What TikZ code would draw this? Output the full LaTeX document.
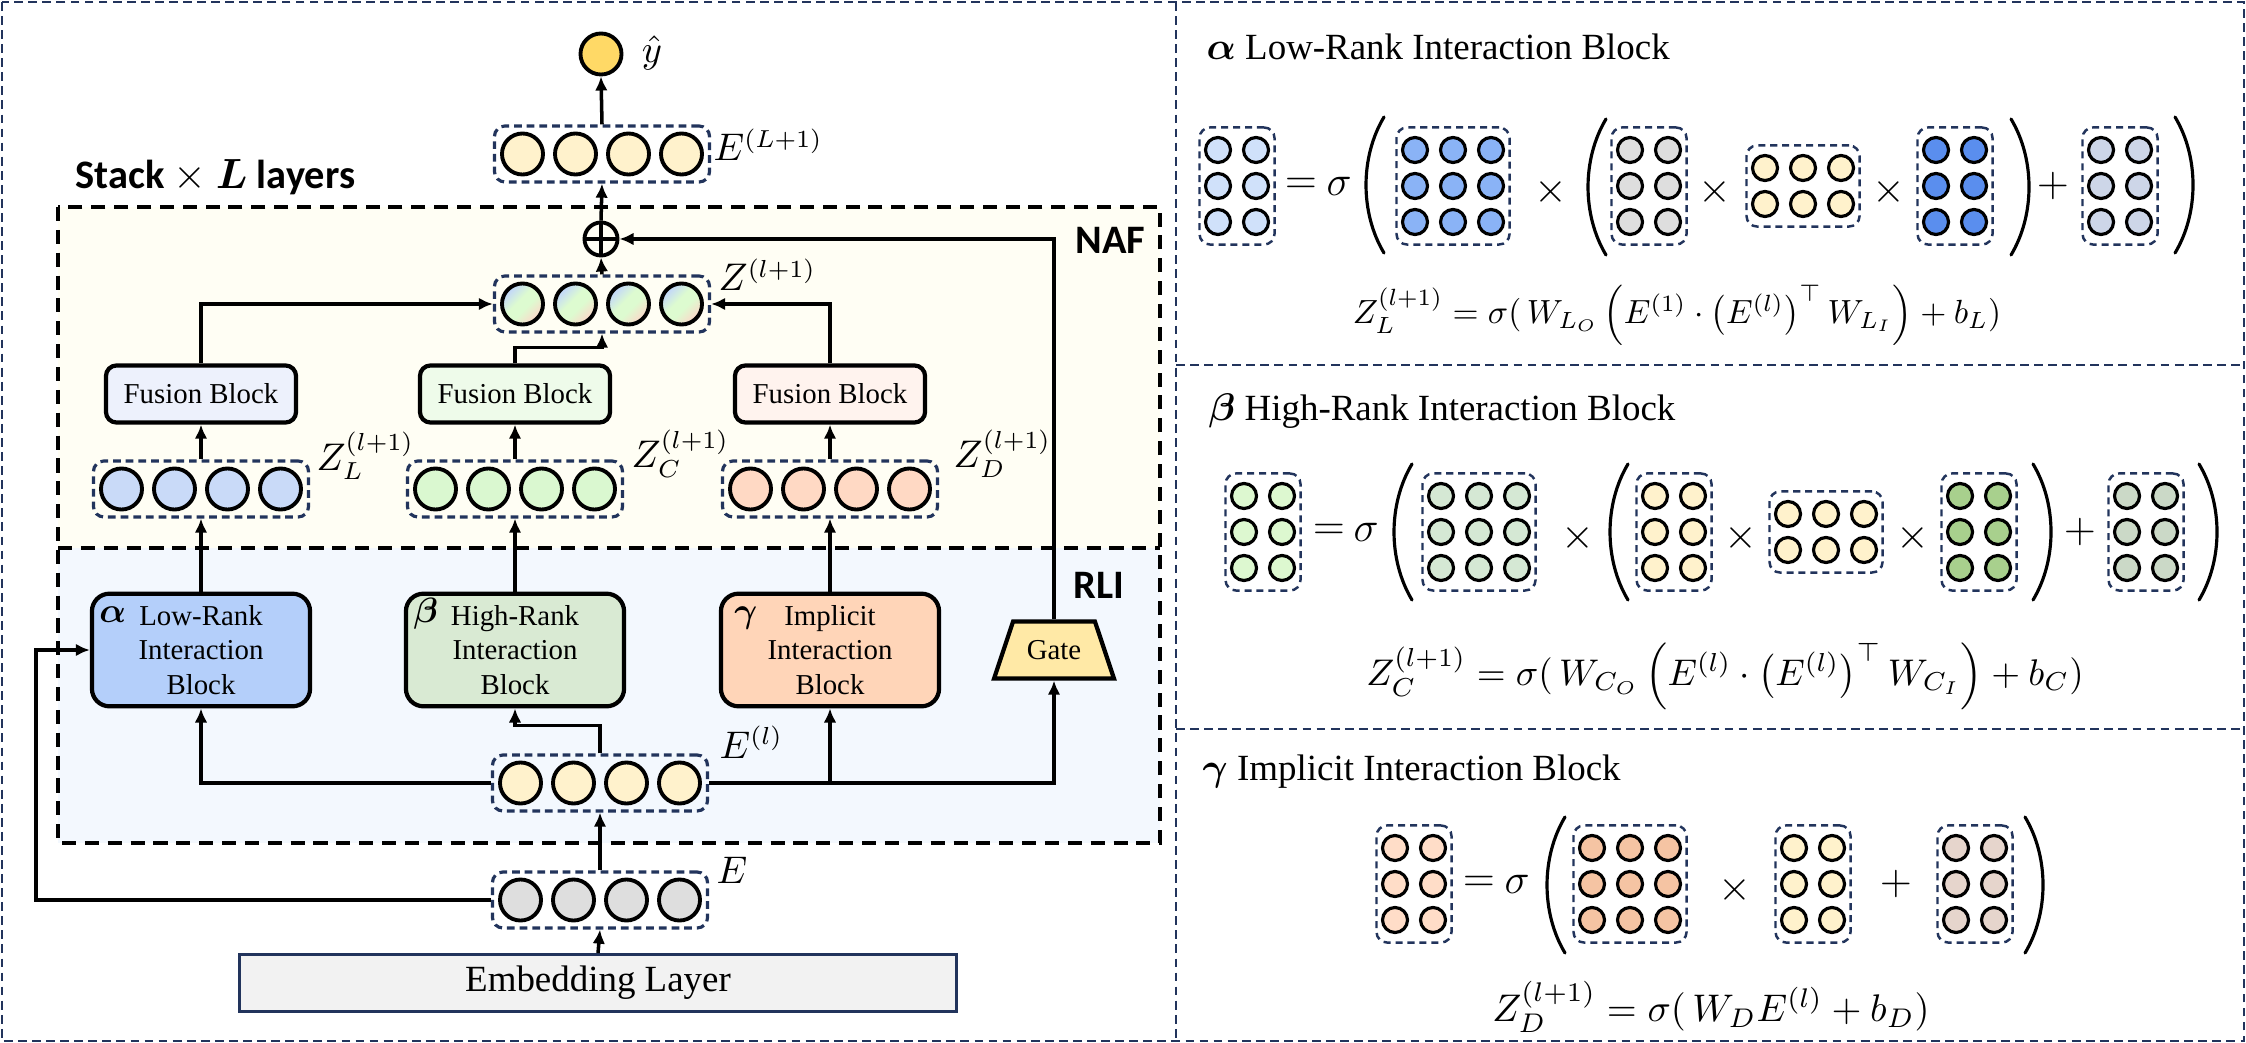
\documentclass[tikz,border=0pt]{standalone}
\usepackage{amsmath,amssymb,bm}
\usepackage{graphicx}
\usepackage{fontspec}
\setmainfont{Liberation Serif}
\newfontfamily\tagfont{Carlito}
\usetikzlibrary{positioning,calc,arrows.meta,shapes.geometric}

\definecolor{navy}{HTML}{22345C}
\definecolor{nafbg}{HTML}{FFFEF4}
\definecolor{rlibg}{HTML}{F3F8FE}
\definecolor{yhatcol}{HTML}{FFD966}
\definecolor{ecol}{HTML}{FFF2CC}
\definecolor{embcol}{HTML}{DEDEDE}
\definecolor{zlcol}{HTML}{C9DAF8}
\definecolor{zccol}{HTML}{DAF8D0}
\definecolor{zdcol}{HTML}{FFD9C4}
\definecolor{mixa}{HTML}{C4DAF6}
\definecolor{mixb}{HTML}{DDFBD0}
\definecolor{mixc}{HTML}{F8DCCA}
\definecolor{fusl}{HTML}{EDF1FC}
\definecolor{fusc}{HTML}{EEFBEA}
\definecolor{fusd}{HTML}{FFF3EE}
\definecolor{lowcol}{HTML}{B4CFFA}
\definecolor{highcol}{HTML}{D9EAD3}
\definecolor{impcol}{HTML}{FFD5B8}
\definecolor{gatecol}{HTML}{FFE9A6}
\definecolor{layercol}{HTML}{F2F2F2}
% matrix colours
\definecolor{aout}{HTML}{D0E1FA}
\definecolor{aw}{HTML}{8AB3F6}
\definecolor{av}{HTML}{5A8EEE}
\definecolor{abias}{HTML}{CDD6E8}
\definecolor{mgray}{HTML}{DEDEDE}
\definecolor{bout}{HTML}{DDF8D0}
\definecolor{bw}{HTML}{D5E8D4}
\definecolor{bv}{HTML}{A8D08D}
\definecolor{bbias}{HTML}{CBD9C7}
\definecolor{gout}{HTML}{FFDDC8}
\definecolor{gw}{HTML}{F5C4A3}
\definecolor{gbias}{HTML}{E6D5CC}

\pgfdeclareverticalshading{zmixshade}{100bp}{color(0bp)=(mixc); color(28bp)=(mixc); color(44bp)=(mixb); color(56bp)=(mixb); color(72bp)=(mixa); color(100bp)=(mixa)}

\tikzset{>={Latex[length=4pt,width=3.6pt]}}
\tikzset{arr/.style={->,line width=1pt}}
\tikzset{outerframe/.style={draw=navy,line width=0.6pt,dash pattern=on 2.5pt off 1.5pt}}
\tikzset{stackline/.style={draw=black,line width=1pt,dash pattern=on 4pt off 2.5pt}}
\tikzset{vecbox/.style={draw=navy,line width=0.9pt,dash pattern=on 2.2pt off 1.4pt,rounded corners=3pt,minimum width=2.15cm,minimum height=0.56cm,inner sep=0pt}}
\tikzset{unitcell/.style={draw,circle,line width=1.1pt,minimum size=0.41cm,inner sep=0pt}}
\tikzset{mixcell/.style={shade,shading=zmixshade,shading angle=45}}
\tikzset{matbox/.style={draw=navy,line width=0.7pt,dash pattern=on 2pt off 1.4pt,rounded corners=3pt,inner sep=0pt}}
\tikzset{mcell/.style={draw,circle,line width=0.9pt,minimum size=0.25cm,inner sep=0pt}}
\tikzset{fusion/.style={draw,line width=1.2pt,rounded corners=3pt,minimum width=1.9cm,minimum height=0.57cm,font=\fontsize{8.2}{10}\selectfont}}
\tikzset{iblock/.style={draw,line width=1.2pt,rounded corners=5pt,minimum width=2.18cm,minimum height=1.05cm,align=center,font=\fontsize{8.2}{9.8}\selectfont}}
\tikzset{greek/.style={anchor=base,inner sep=0pt,font=\fontsize{10}{12}\selectfont}}
\tikzset{lbl/.style={anchor=base west,inner sep=0pt,font=\fontsize{10.5}{12}\selectfont}}
\tikzset{tagtext/.style={anchor=base west,inner sep=0pt,font=\tagfont\bfseries\fontsize{11.5}{13}\selectfont}}
\tikzset{optext/.style={inner sep=0pt,font=\fontsize{12}{14}\selectfont}}
\tikzset{parenline/.style={line width=0.9pt,line cap=round}}
\tikzset{ttl/.style={anchor=base west,inner sep=0pt,font=\fontsize{10.5}{12}\selectfont}}

% row of four units inside a dashed box
\newcommand{\cellrow}[4]{%
  \node[vecbox] (#1) at (#2,#3) {};
  \foreach \idx in {1,...,4}
    \node[unitcell,#4] (#1-\idx) at ({#2+(\idx-2.5)*53},#3) {};
}
% small matrix: name, x, y, rows, cols, fill
\newcommand{\cellmat}[6]{%
  \node[matbox,minimum width={(#5-1)*0.38cm+0.37cm},minimum height={(#4-1)*0.36cm+0.45cm}] (#1) at (#2,#3) {};
  \foreach \row in {1,...,#4}
    \foreach \col in {1,...,#5}
      \node[mcell,fill=#6] (#1-\row\col) at ({#2+(\col-(#5+1)/2)*38},{#3+(\row-(#4+1)/2)*36}) {};
}
% tall brackets: x, y
\newcommand{\openbig}[2]{\draw[parenline] ({#1+9},{#2-68}) .. controls ({#1-15},{#2-28}) and ({#1-15},{#2+28}) .. ({#1+9},{#2+68});}
\newcommand{\closebig}[2]{\draw[parenline] ({#1-9},{#2-68}) .. controls ({#1+15},{#2-28}) and ({#1+15},{#2+28}) .. ({#1-9},{#2+68});}

\begin{document}
\begin{tikzpicture}[x=0.01cm,y=-0.01cm]
\useasboundingbox (0,0) rectangle (2246,1043);

% panel frames
\draw[outerframe] (2,2) rectangle (2244,1041);
\draw[outerframe] (1176,2) -- (1176,1041) (1176,365) -- (2244,365) (1176,729) -- (2244,729);

% stacked layer: NAF over RLI
\fill[nafbg] (58,207) rectangle (1160,548);
\fill[rlibg] (58,548) rectangle (1160,843);
\draw[stackline] (58,207) rectangle (1160,843) (58,548) -- (1160,548);
\node[tagtext] (stack) at (75,189) {Stack $\times$ $\bm{L}$ layers};
\node[tagtext] (naf) at (1075,254) {NAF};
\node[tagtext] (rli) at (1073,598) {RLI};

% output
\node[unitcell,fill=yhatcol] (yhat) at (601,54) {};
\node[inner sep=0pt,font=\fontsize{11}{13}\selectfont] (yhatlbl) at (652,53) {$\hat{y}$};

\cellrow{eout}{602}{154}{fill=ecol}
\cellrow{zmix}{602}{304}{mixcell}
\cellrow{zl}{201}{489}{fill=zlcol}
\cellrow{zc}{515}{489}{fill=zccol}
\cellrow{zd}{830}{489}{fill=zdcol}
\cellrow{el}{600}{783}{fill=ecol}
\cellrow{emb}{600}{900}{fill=embcol}

\node[lbl] (eoutlbl) at (713,161) {$E^{(L+1)}$};
\node[lbl] (zmixlbl) at (718,291) {$Z^{(l+1)}$};
\node[lbl] (zllbl) at (316,470) {$Z_L^{(l+1)}$};
\node[lbl] (zclbl) at (631,468) {$Z_C^{(l+1)}$};
\node[lbl] (zdlbl) at (953,468) {$Z_D^{(l+1)}$};
\node[lbl] (ellbl) at (719,758) {$E^{(l)}$};
\node[lbl] (emblbl) at (716,883) {$E$};

% aggregation
\node[draw,circle,line width=1.1pt,minimum size=0.33cm,inner sep=0pt] (add) at (601,239) {};
\draw[line width=1.1pt] (add.north) -- (add.south) (add.west) -- (add.east);

% NAF fusion blocks
\node[fusion,fill=fusl] (fusL) at (201,394) {Fusion Block};
\node[fusion,fill=fusc] (fusC) at (515,394) {Fusion Block};
\node[fusion,fill=fusd] (fusD) at (830,394) {Fusion Block};

% RLI blocks
\node[iblock,fill=lowcol] (low) at (201,650) {Low-Rank\\Interaction\\Block};
\node[iblock,fill=highcol] (high) at (515,650) {High-Rank\\Interaction\\Block};
\node[iblock,fill=impcol] (imp) at (830,650) {Implicit\\Interaction\\Block};
\node[greek] (lowG) at ($(low.north west)+(23,31)$) {$\bm{\alpha}$};
\node[greek] (highG) at ($(high.north west)+(22,31)$) {$\bm{\beta}$};
\node[greek] (impG) at ($(imp.north west)+(27,31)$) {$\bm{\gamma}$};
\node[draw,line width=1.2pt,fill=gatecol,trapezium,trapezium angle=68,trapezium stretches=true,minimum width=1.2cm,minimum height=0.57cm,inner xsep=0.1cm,font=\fontsize{8.2}{10}\selectfont] (gate) at (1054,650) {Gate};

\node[draw=navy,line width=0.8pt,fill=layercol,minimum width=7.17cm,minimum height=0.53cm,font=\fontsize{10.5}{12}\selectfont] (layer) at (598,983) {Embedding Layer};

% connectors
\draw[arr] (eout.north) -- (yhat.south);
\draw[arr] (add.north) -- (eout.south);
\draw[arr] (zmix.north) -- (add.south);
\draw[arr] (gate.north) |- (add.east);
\draw[arr] (fusL.north) |- (zmix.west);
\draw[arr] (fusD.north) |- (zmix.east);
\draw[arr] (fusC.north) -- ++(0,-16) -| (zmix.south);
\draw[arr] (zl.north) -- (fusL.south);
\draw[arr] (zc.north) -- (fusC.south);
\draw[arr] (zd.north) -- (fusD.south);
\draw[arr] (low.north) -- (zl.south);
\draw[arr] (high.north) -- (zc.south);
\draw[arr] (imp.north) -- (zd.south);
\draw[arr] (el.west) -| (low.south);
\draw[arr] (el.east) -| (gate.south);
\draw[arr] (imp.south |- el.east) -- (imp.south);
\draw[arr] (el.north) -- ++(0,-28) -| (high.south);
\draw[arr] (emb.north) -- (el.south);
\coordinate (skip) at (36,650);
\draw[arr] (emb.west) -| (skip) -- (low.west);
\draw[arr] (layer.north) -- (emb.south);

% alpha: low-rank interaction
\node[ttl] (ttlA) at (1206,60) {$\bm{\alpha}$ Low-Rank Interaction Block};
\cellmat{aM1}{1237}{186}{3}{2}{aout}
\cellmat{aM2}{1453}{186}{3}{3}{aw}
\cellmat{aM3}{1649}{186}{3}{2}{mgray}
\cellmat{aM4}{1803}{186}{2}{3}{ecol}
\cellmat{aM5}{1955}{186}{3}{2}{av}
\cellmat{aM6}{2120}{186}{3}{2}{abias}
\node[optext] (aEq) at (1301,186) {$=$};
\node[optext] (aSig) at (1339,186) {$\sigma$};
\node[optext] (aX1) at (1551,192) {$\times$};
\node[optext] (aX2) at (1715,192) {$\times$};
\node[optext] (aX3) at (1889,192) {$\times$};
\node[optext] (aPlus) at (2053,186) {$+$};
\openbig{1375}{185}
\openbig{1597}{187}
\closebig{2020}{187}
\closebig{2184}{185}
\node (fA) at (1677,315) {\resizebox{6.48cm}{!}{$Z_L^{(l+1)} = \sigma(\,W_{L_O}\left(E^{(1)}\cdot\left(E^{(l)}\right)^{\top}W_{L_I}\right)+b_L)$}};

% beta: high-rank interaction
\node[ttl] (ttlB) at (1208,420) {$\bm{\beta}$ High-Rank Interaction Block};
\cellmat{bM1}{1263}{532}{3}{2}{bout}
\cellmat{bM2}{1479}{532}{3}{3}{bw}
\cellmat{bM3}{1674}{532}{3}{2}{ecol}
\cellmat{bM4}{1826}{532}{2}{3}{ecol}
\cellmat{bM5}{1979}{532}{3}{2}{bv}
\cellmat{bM6}{2146}{532}{3}{2}{bbias}
\node[optext] (bEq) at (1329,532) {$=$};
\node[optext] (bSig) at (1366,532) {$\sigma$};
\node[optext] (bX1) at (1578,538) {$\times$};
\node[optext] (bX2) at (1741,538) {$\times$};
\node[optext] (bX3) at (1913,538) {$\times$};
\node[optext] (bPlus) at (2080,532) {$+$};
\openbig{1403}{532}
\openbig{1619}{532}
\closebig{2042}{532}
\closebig{2208}{532}
\node (fB) at (1725,676) {\resizebox{7.17cm}{!}{$Z_C^{(l+1)} = \sigma(\,W_{C_O}\left(E^{(l)}\cdot\left(E^{(l)}\right)^{\top}W_{C_I}\right)+b_C)$}};

% gamma: implicit interaction
\node[ttl] (ttlG) at (1202,780) {$\bm{\gamma}$ Implicit Interaction Block};
\cellmat{gM1}{1414}{884}{3}{2}{gout}
\cellmat{gM2}{1630}{884}{3}{3}{gw}
\cellmat{gM3}{1813}{884}{3}{2}{ecol}
\cellmat{gM4}{1975}{884}{3}{2}{gbias}
\node[optext] (gEq) at (1479,884) {$=$};
\node[optext] (gSig) at (1517,884) {$\sigma$};
\node[optext] (gX1) at (1735,890) {$\times$};
\node[optext] (gPlus) at (1896,884) {$+$};
\openbig{1556}{885}
\closebig{2034}{885}
\node (fG) at (1711,1007) {\resizebox{4.37cm}{!}{$Z_D^{(l+1)} = \sigma(\,W_D E^{(l)} + b_D)$}};
\end{tikzpicture}
\end{document}
